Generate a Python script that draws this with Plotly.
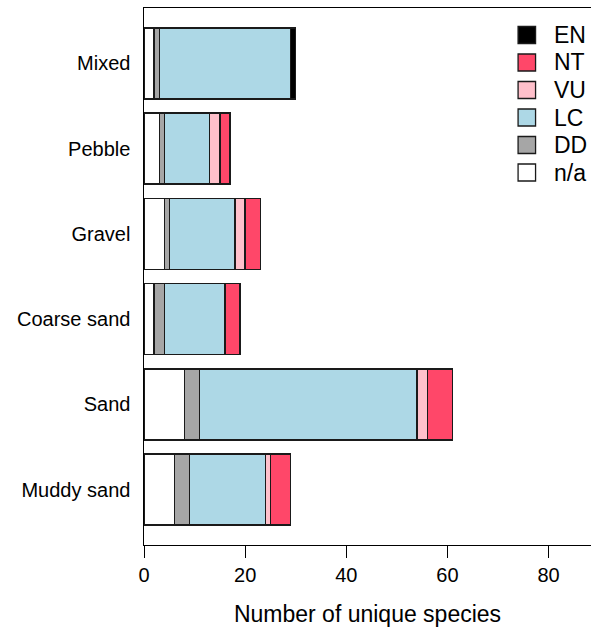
import plotly.graph_objects as go

# Data (bottom-to-top category order)
categories = ["Muddy sand", "Sand", "Coarse sand", "Gravel", "Pebble", "Mixed"]
na_vals = [6, 8, 2, 4, 3, 2]
dd_vals = [3, 3, 2, 1, 1, 1]
lc_vals = [15, 43, 12, 13, 9, 26]
vu_vals = [1, 2, 0, 2, 2, 0]
nt_vals = [4, 5, 3, 3, 2, 0]
en_vals = [0, 0, 0, 0, 0, 1]

series_names = ["n/a", "DD", "LC", "VU", "NT", "EN"]
series_vals = [na_vals, dd_vals, lc_vals, vu_vals, nt_vals, en_vals]
series_colors = ["#FFFFFF", "#A6A6A6", "#ADD8E6", "#FFC0CB", "#FF4769", "#000000"]

W, H = 591, 630
L, R, T, B = 143.5, 0, 8, 85

fig = go.Figure()
for name, vals, col in zip(series_names, series_vals, series_colors):
    fig.add_trace(go.Bar(
        y=categories, x=[v if v else None for v in vals], name=name,
        orientation="h", marker=dict(color=col, line=dict(color="#1a1a1a", width=1.3)),
        showlegend=False,
    ))

# manual legend (top to bottom: EN, NT, VU, LC, DD, n/a), positions in page px
pw = W - L - R
ph = H - T - B
def px2x(px):
    return (px - L) / pw
def py2y(py):
    return (H - B - py) / ph

leg_y = [35, 62.5, 90, 117.5, 145, 172.5]
for i, (name, col) in enumerate(zip(series_names[::-1], series_colors[::-1])):
    cy = leg_y[i]
    fig.add_shape(type="rect", xref="paper", yref="paper",
                  x0=px2x(518), x1=px2x(535.5), y0=py2y(cy + 8.5), y1=py2y(cy - 8.5),
                  fillcolor=col, line=dict(color="#1a1a1a", width=1.3))
    fig.add_annotation(xref="paper", yref="paper", x=px2x(552), y=py2y(cy),
                       text=name, showarrow=False, xanchor="left", yanchor="middle",
                       font=dict(size=23, color="black"))

fig.update_layout(
    width=W, height=H,
    margin=dict(l=L, r=R, t=T, b=B, pad=0),
    barmode="stack", bargap=0.167,
    plot_bgcolor="white", paper_bgcolor="white",
    font=dict(family="Liberation Sans, Arial, sans-serif", color="black", size=20),
)
fig.update_xaxes(
    range=[0, 88.4], tickvals=[0, 20, 40, 60, 80],
    showline=True, linecolor="black", linewidth=1.2, mirror=True,
    ticks="outside", ticklen=12, tickwidth=1.2, tickcolor="black",
    showgrid=False, zeroline=False,
    tickfont=dict(size=20),
    title=dict(text="Number of unique species", font=dict(size=23), standoff=20),
)
fig.update_yaxes(
    range=[-0.65, 5.65],
    showline=True, linecolor="black", linewidth=1.2,
    ticks="outside", ticklen=8.5, tickcolor="rgba(0,0,0,0)",
    showgrid=False, zeroline=False,
    tickfont=dict(size=20),
)

fig.write_html(
    "out.html",
    config={"displayModeBar": False},
    post_script="document.body.style.margin='0';document.body.style.overflow='hidden';",
)
